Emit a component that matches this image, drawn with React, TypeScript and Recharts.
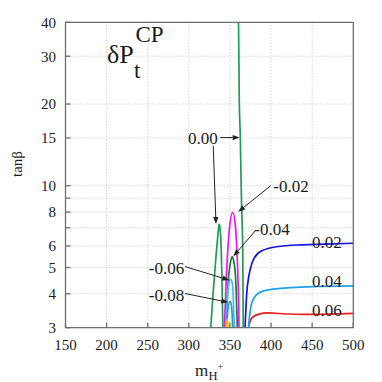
import React from 'react';
import {
  LineChart,
  Line,
  XAxis,
  YAxis,
  CartesianGrid,
  ReferenceLine,
  ReferenceDot,
} from 'recharts';

// axis ticks
const xTicks = [150, 200, 250, 300, 350, 400, 450, 500];
const yTicks = [3, 4, 5, 6, 7, 8, 9, 10, 15, 20, 30, 40];
const yLabelled = [3, 4, 5, 6, 8, 10, 15, 20, 30, 40];

// contour lines of dP_t^CP in the (m_H+, tan beta) plane
const c000Lobe = [
  { m: 326.6, tb: 3 }, { m: 329.8, tb: 4.13 }, { m: 333.0, tb: 5.48 }, { m: 335.5, tb: 6.68 },
  { m: 337.1, tb: 7.21 }, { m: 338.7, tb: 6.49 }, { m: 340.0, tb: 4.89 }, { m: 341.4, tb: 3 },
];
const c000Branch = [
  { m: 360.4, tb: 40 }, { m: 361.4, tb: 20 }, { m: 362.6, tb: 15 }, { m: 364.0, tb: 8.9 },
  { m: 365.5, tb: 6 }, { m: 366.2, tb: 3 },
];
const cm002 = [
  { m: 343.1, tb: 3 }, { m: 344.4, tb: 3.69 }, { m: 346.0, tb: 4.89 }, { m: 349.2, tb: 6.87 },
  { m: 353.3, tb: 7.96 }, { m: 357.0, tb: 6.87 }, { m: 359.4, tb: 4.89 }, { m: 360.6, tb: 3.69 },
  { m: 361.0, tb: 3 },
];
const cm004 = [
  { m: 345.2, tb: 3 }, { m: 348.0, tb: 4.49 }, { m: 350.5, tb: 5.2 }, { m: 352.8, tb: 5.48 },
  { m: 355.0, tb: 5.2 }, { m: 357.0, tb: 4.49 }, { m: 359.0, tb: 3 },
];
const cm006 = [
  { m: 345.2, tb: 3 }, { m: 346.8, tb: 3.9 }, { m: 348.8, tb: 4.4 }, { m: 350.9, tb: 4.52 },
  { m: 353.0, tb: 4.35 }, { m: 354.0, tb: 3.9 }, { m: 355.3, tb: 3 },
];
const cm008 = [
  { m: 346.0, tb: 3 }, { m: 347.5, tb: 3.5 }, { m: 350.1, tb: 3.74 }, { m: 352.3, tb: 3.5 },
  { m: 353.3, tb: 3 },
];
const cm010 = [{ m: 345.5, tb: 3 }, { m: 346.8, tb: 3.22 }, { m: 348.0, tb: 3 }];
const c002 = [
  { m: 368.3, tb: 3 }, { m: 369.5, tb: 3.58 }, { m: 371.1, tb: 4.25 }, { m: 374.4, tb: 4.89 },
  { m: 379.2, tb: 5.4 }, { m: 388.6, tb: 5.76 }, { m: 406.8, tb: 5.96 }, { m: 431.2, tb: 6.05 },
  { m: 465.0, tb: 6.1 }, { m: 500.0, tb: 6.14 },
];
const c004 = [
  { m: 372.4, tb: 3 }, { m: 376.4, tb: 3.69 }, { m: 384.5, tb: 4.02 }, { m: 402.7, tb: 4.16 },
  { m: 451.4, tb: 4.25 }, { m: 500.0, tb: 4.28 },
];
const c006 = [
  { m: 372.4, tb: 3 }, { m: 376.4, tb: 3.25 }, { m: 384.5, tb: 3.36 }, { m: 396.6, tb: 3.4 },
  { m: 419.0, tb: 3.37 }, { m: 451.4, tb: 3.36 }, { m: 500.0, tb: 3.39 },
];

// contour labels and the arrows that point at them
const labels = [
  { text: '0.00', m: 317.2, tb: 15.05 },
  { text: '-0.02', m: 424.2, tb: 9.97 },
  { text: '-0.04', m: 401.1, tb: 6.93 },
  { text: '-0.06', m: 272.8, tb: 4.98 },
  { text: '-0.08', m: 272.8, tb: 3.96 },
  { text: '0.02', m: 468, tb: 6.22 },
  { text: '0.04', m: 468, tb: 4.47 },
  { text: '0.06', m: 468, tb: 3.49 },
];
const arrows = [
  { m1: 338.1, tb1: 15.05, m2: 361.8, tb2: 15.05 },
  { m1: 329.7, tb1: 14.0, m2: 333.0, tb2: 7.23 },
  { m1: 399.5, tb1: 10.0, m2: 360.1, tb2: 8.02 },
  { m1: 381.7, tb1: 6.87, m2: 354.1, tb2: 5.5 },
  { m1: 295.3, tb1: 5.04, m2: 349.2, tb2: 4.49 },
  { m1: 295.3, tb1: 4.01, m2: 348.0, tb2: 3.72 },
];

const FONT = 'Liberation Serif, Tinos, DejaVu Serif, serif';
const FRAME = '#6e6e6e';

const Arrow = (p: any) => {
  const { x1, y1, x2, y2 } = p;
  const a = Math.atan2(y2 - y1, x2 - x1);
  const len = 7;
  const w = 2.6;
  const bx = x2 - len * Math.cos(a);
  const by = y2 - len * Math.sin(a);
  const px = -Math.sin(a) * w;
  const py = Math.cos(a) * w;
  return (
    <g>
      <line x1={x1} y1={y1} x2={bx} y2={by} stroke="#222" strokeWidth={1} />
      <polygon points={`${x2},${y2} ${bx + px},${by + py} ${bx - px},${by - py}`} fill="#222" />
    </g>
  );
};

const curves: { data: any[]; color: string }[] = [
  { data: c006, color: '#e8201c' },
  { data: c004, color: '#1ca3e3' },
  { data: c002, color: '#1414e0' },
  { data: c000Lobe, color: '#229a55' },
  { data: c000Branch, color: '#229a55' },
  { data: cm002, color: '#f014f0' },
  { data: cm004, color: '#1c7a38' },
  { data: cm006, color: '#40baf2' },
  { data: cm008, color: '#2c98b8' },
  { data: cm010, color: '#e2d000' },
];

export default function App() {
  const tickStyle = { fill: '#1a1a1a', fontSize: 15, fontFamily: FONT };
  return (
    <div style={{ position: 'absolute', left: 0, top: 0, width: 382, height: 382, background: '#fff', fontFamily: FONT }}>
      <LineChart width={382} height={382} margin={{ top: 21.3, right: 27.7, left: 0, bottom: 0 }} style={{ fontFamily: FONT }}>
        <CartesianGrid stroke="#c4c4c4" strokeDasharray="1 2" />
        <XAxis
          dataKey="m"
          type="number"
          domain={[150, 500]}
          ticks={xTicks}
          interval={0}
          allowDataOverflow
          height={54.3}
          stroke={FRAME}
          strokeWidth={1.3}
          tickSize={-5}
          tickMargin={17}
          tick={tickStyle}
        />
        <XAxis
          xAxisId="top"
          orientation="top"
          type="number"
          domain={[150, 500]}
          ticks={xTicks}
          interval={0}
          height={1}
          stroke={FRAME}
          strokeWidth={1.3}
          tickSize={-5}
          tickFormatter={() => ''}
        />
        <YAxis
          type="number"
          scale="log"
          domain={[3, 40]}
          ticks={yTicks}
          interval={0}
          allowDataOverflow
          width={65.5}
          stroke={FRAME}
          strokeWidth={1.3}
          tickSize={-5}
          tickMargin={14.5}
          tick={tickStyle}
          tickFormatter={(v: number) => (yLabelled.includes(v) ? String(v) : '')}
        />
        <YAxis
          yAxisId="right"
          orientation="right"
          type="number"
          scale="log"
          domain={[3, 40]}
          ticks={yTicks}
          interval={0}
          width={1}
          stroke={FRAME}
          strokeWidth={1.3}
          tickSize={-5}
          tickFormatter={() => ''}
        />
        {curves.map((c, i) => (
          <Line
            key={i}
            data={c.data}
            dataKey="tb"
            type="natural"
            stroke={c.color}
            strokeWidth={1.7}
            dot={false}
            isAnimationActive={false}
          />
        ))}
        {arrows.map((a, i) => (
          <ReferenceLine
            key={'a' + i}
            segment={[{ x: a.m1, y: a.tb1 }, { x: a.m2, y: a.tb2 }]}
            shape={Arrow}
          />
        ))}
        {labels.map((l, i) => (
          <ReferenceDot
            key={'l' + i}
            x={l.m}
            y={l.tb}
            r={0}
            shape={(p: any) => (
              <text x={p.cx} y={p.cy} dy="0.35em" textAnchor="middle" fontSize={17} fontFamily={FONT} fill="#1a1a1a">
                {l.text}
              </text>
            )}
          />
        ))}
      </LineChart>
      <svg width={382} height={382} style={{ position: 'absolute', left: 0, top: 0, pointerEvents: 'none', fontFamily: FONT }}>
        <text x={107} y={63} fontSize={26} fill="#1a1a1a">δP</text>
        <text x={134} y={78} fontSize={23} fill="#1a1a1a">t</text>
        <text x={135.5} y={42} fontSize={23} fill="#1a1a1a">CP</text>
        <text
          x={16.5}
          y={164}
          transform="rotate(-90 16.5 164)"
          textAnchor="middle"
          dy="0.35em"
          fontSize={15}
          fill="#1a1a1a"
        >
          tanβ
        </text>
        <text x={195} y={376} fontSize={17} fill="#1a1a1a">m</text>
        <text x={208.5} y={379.5} fontSize={12.5} fill="#1a1a1a">H</text>
        <text x={217.5} y={370} fontSize={10} fill="#1a1a1a">+</text>
      </svg>
    </div>
  );
}
